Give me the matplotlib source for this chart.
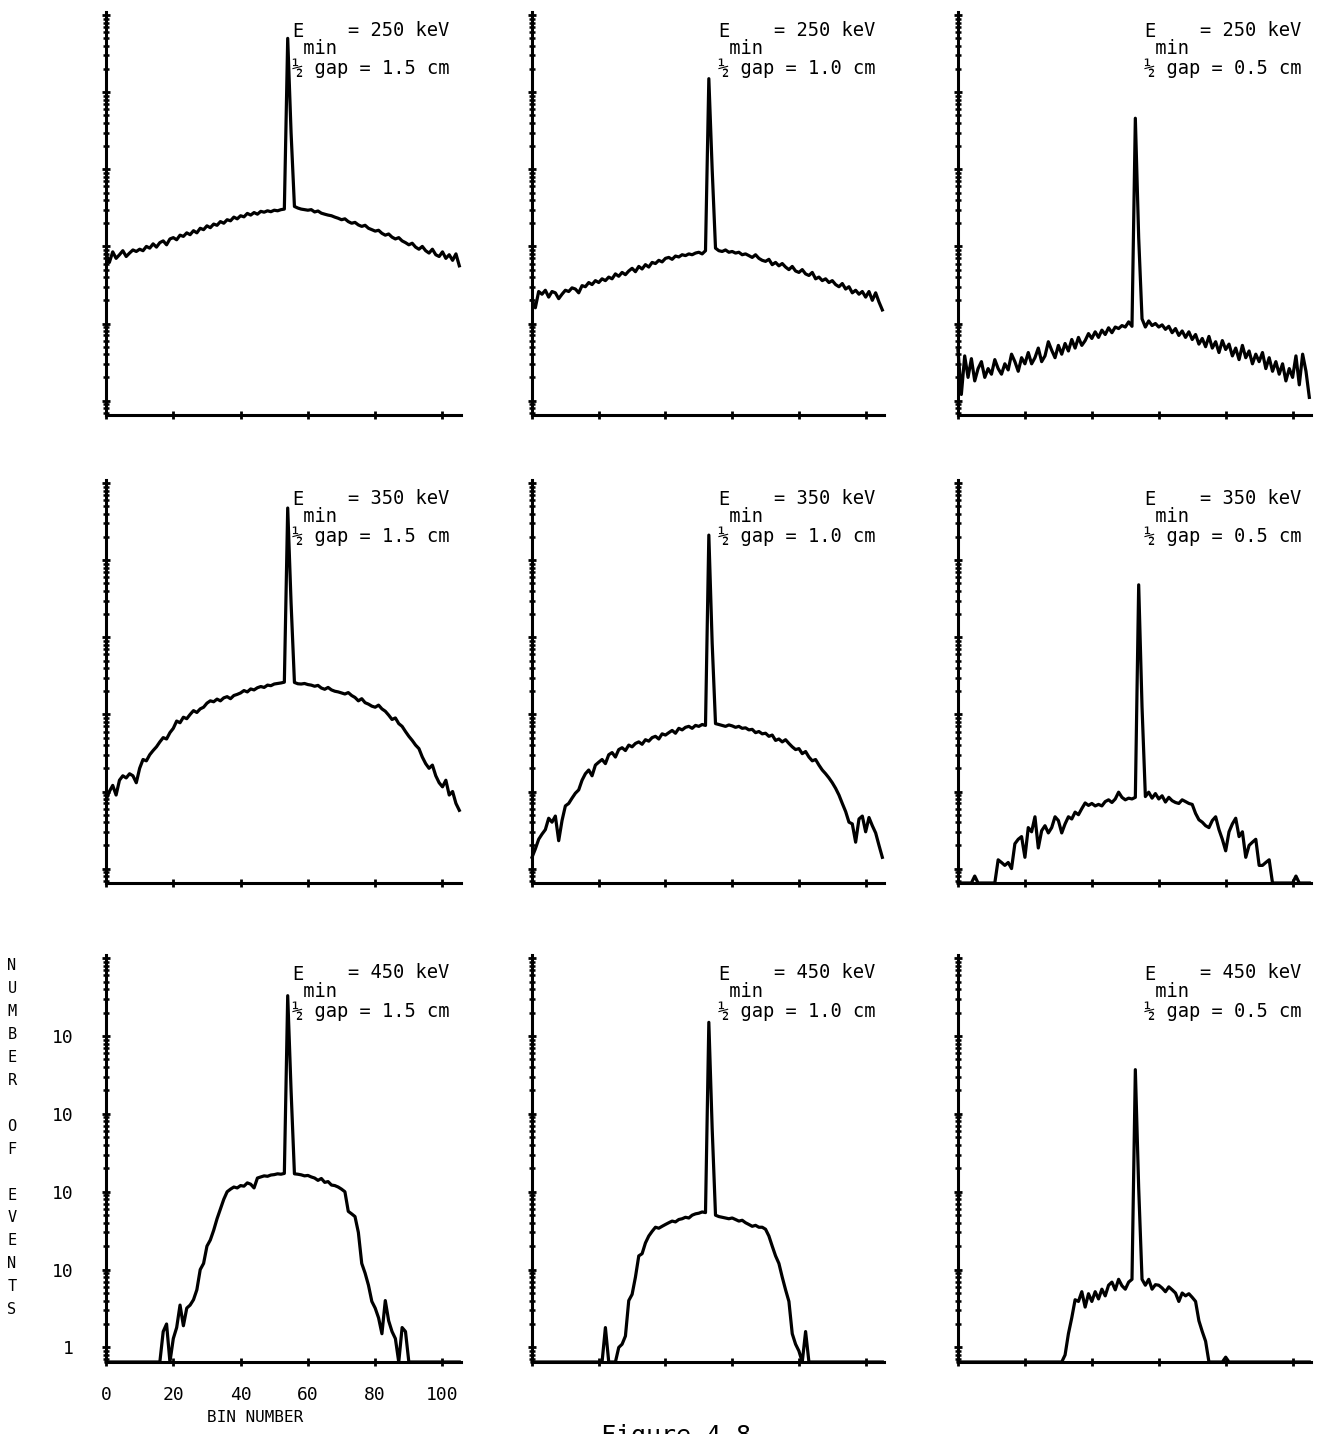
import numpy as np
import matplotlib
matplotlib.use("Agg")
import matplotlib.pyplot as plt
from matplotlib.ticker import FixedLocator, LogLocator, NullFormatter, FixedFormatter

# ---------------- data (counts per bin, bins 0..105) ----------------
bins = list(range(106))

e_min_kev = ["250", "350", "450"]          # rows
half_gap_cm = ["1.5", "1.0", "0.5"]         # columns

x_tick_values = [0, 20, 40, 60, 80, 100]
x_tick_labels = ["0", "20", "40", "60", "80", "100"]
y_tick_values = [1, 10, 100, 1000, 10000, 100000]
y_tick_labels = ["1", "10", "10", "10", "10", ""]

counts_250_15 = [80, 62, 85, 70, 78, 88, 74, 82, 90, 86,
                 92, 88, 100, 95, 108, 98, 112, 118, 105, 125,
                 130, 122, 140, 135, 150, 142, 160, 150, 172, 165,
                 185, 175, 195, 188, 210, 200, 222, 215, 240, 228,
                 250, 242, 268, 255, 275, 262, 285, 278, 290, 282,
                 295, 290, 300, 305, 50000, 3000, 330, 315, 305, 300,
                 295, 300, 280, 288, 270, 262, 255, 250, 240, 232,
                 222, 228, 210, 200, 205, 190, 182, 188, 172, 165,
                 158, 162, 148, 140, 145, 132, 125, 130, 118, 112,
                 105, 110, 98, 92, 100, 88, 82, 92, 78, 74,
                 85, 70, 78, 66, 80, 56]

counts_250_10 = [20, 16, 26, 24, 27, 22, 26, 25, 21, 24,
                 27, 26, 29, 28, 25, 31, 30, 34, 32, 36,
                 34, 38, 36, 40, 38, 44, 41, 46, 43, 48,
                 52, 47, 55, 51, 58, 54, 62, 60, 66, 63,
                 70, 72, 68, 75, 73, 78, 76, 80, 78, 82,
                 84, 80, 88, 15000, 1000, 95, 88, 86, 90, 84,
                 86, 82, 84, 78, 80, 76, 72, 78, 70, 66,
                 64, 68, 58, 62, 56, 60, 54, 50, 55, 48,
                 46, 50, 44, 42, 46, 38, 40, 36, 38, 34,
                 36, 32, 30, 33, 28, 30, 25, 27, 24, 26,
                 22, 26, 20, 25, 19, 15]

counts_250_05 = [4.5, 1.2, 3.8, 2.0, 3.5, 1.8, 2.6, 3.2, 2.0, 2.6,
                 2.2, 3.4, 2.6, 2.2, 3.0, 2.5, 4.0, 3.2, 2.4, 3.6,
                 3.0, 4.2, 3.0, 3.6, 4.8, 3.2, 3.8, 5.8, 4.5, 3.6,
                 5.2, 4.0, 5.5, 4.4, 6.2, 4.8, 6.6, 5.2, 6.0, 7.4,
                 6.4, 7.8, 6.6, 8.2, 7.2, 8.8, 7.6, 9.0, 8.6, 9.4,
                 9.0, 10.5, 9.2, 4600, 130, 11.5, 9.0, 10.8, 9.4, 10.0,
                 9.0, 9.6, 8.4, 9.2, 7.6, 8.6, 7.0, 8.0, 6.6, 7.8,
                 6.2, 7.2, 5.4, 6.4, 5.0, 6.8, 4.8, 5.8, 4.2, 6.0,
                 4.6, 5.4, 3.8, 4.8, 3.4, 5.2, 3.6, 4.4, 3.0, 4.0,
                 3.2, 4.2, 2.6, 3.6, 2.4, 3.2, 2.2, 3.0, 1.8, 2.6,
                 2.0, 3.8, 1.6, 4.0, 2.4, 1.1]

counts_350_15 = [7.8, 10, 12, 9, 14, 16, 15, 17, 16, 13,
                 20, 26, 25, 30, 34, 38, 44, 50, 48, 58,
                 66, 82, 78, 92, 88, 100, 112, 106, 118, 124,
                 140, 150, 146, 158, 150, 164, 170, 160, 176, 182,
                 190, 204, 196, 214, 208, 222, 230, 224, 240, 236,
                 248, 252, 256, 262, 47600, 2800, 260, 250, 248, 252,
                 244, 240, 232, 238, 220, 212, 224, 208, 200, 196,
                 190, 184, 192, 176, 166, 150, 160, 142, 136, 128,
                 124, 132, 118, 110, 98, 86, 90, 76, 70, 60,
                 52, 46, 40, 36, 28, 23, 20, 22, 16, 13,
                 11.5, 14, 9, 10, 7, 5.7]

counts_350_10 = [1.4, 1.8, 2.4, 2.8, 3.2, 4.5, 4.0, 4.8, 2.3, 4.2,
                 6.5, 7.0, 8.2, 9.5, 10.5, 14, 17, 19, 16, 22,
                 24, 26, 23, 30, 32, 28, 35, 37, 34, 40,
                 38, 42, 44, 41, 47, 45, 50, 52, 48, 56,
                 54, 58, 62, 57, 66, 63, 68, 70, 66, 72,
                 70, 74, 72, 21200, 840, 76, 74, 72, 70, 73,
                 71, 68, 70, 66, 67, 63, 64, 58, 60, 56,
                 57, 52, 54, 46, 48, 44, 47, 42, 38, 35,
                 36, 31, 33, 28, 25, 26, 22, 19, 17, 15,
                 13, 11, 9, 7, 5.5, 4.0, 3.8, 2.2, 4.4, 4.8,
                 3.0, 4.6, 3.6, 2.9, 2.0, 1.4]

counts_350_05 = [0, 0, 0, 0, 0, 0.8, 0, 0, 0, 0,
                 0, 0, 1.3, 1.2, 1.1, 1.2, 1.0, 2.1, 2.4, 2.6,
                 1.4, 3.4, 3.0, 4.7, 1.85, 3.1, 3.6, 2.9, 3.4, 4.7,
                 4.2, 2.9, 3.8, 4.7, 4.4, 5.4, 5.0, 6.0, 7.1, 6.6,
                 7.0, 6.5, 6.8, 6.5, 7.4, 7.8, 7.2, 8.0, 9.8, 8.4,
                 7.8, 8.2, 8.0, 8.4, 4800, 125, 8.6, 9.8, 8.2, 9.4,
                 8.0, 8.8, 7.3, 8.4, 7.6, 7.2, 7.0, 7.8, 7.4, 7.0,
                 6.8, 5.2, 4.3, 4.0, 3.6, 3.4, 4.2, 4.7, 3.2, 2.4,
                 1.7, 3.0, 3.8, 4.5, 2.6, 3.0, 1.4, 2.0, 2.2, 2.4,
                 1.1, 1.1, 1.2, 1.3, 0, 0, 0, 0, 0, 0,
                 0, 0.8, 0, 0, 0, 0]

counts_450_15 = [0, 0, 0, 0, 0, 0, 0, 0, 0, 0,
                 0, 0, 0, 0, 0, 0, 0, 1.6, 2.0, 0,
                 1.3, 1.8, 3.5, 1.9, 3.2, 3.5, 4.1, 5.5, 10, 12,
                 20, 24, 32, 45, 60, 80, 100, 108, 115, 112,
                 120, 118, 130, 125, 112, 150, 155, 160, 158, 164,
                 166, 170, 168, 172, 33000, 2000, 170, 168, 165, 160,
                 162, 155, 150, 140, 148, 132, 135, 122, 120, 115,
                 108, 100, 56, 52, 48, 30, 12, 9, 6.3, 3.9,
                 3.2, 2.4, 1.5, 4.0, 2.2, 1.6, 1.3, 0, 1.8, 1.6,
                 0, 0, 0, 0, 0, 0, 0, 0, 0, 0,
                 0, 0, 0, 0, 0, 0]

counts_450_10 = [0, 0, 0, 0, 0, 0, 0, 0, 0, 0,
                 0, 0, 0, 0, 0, 0, 0, 0, 0, 0,
                 0, 0, 1.8, 0, 0, 0, 1.0, 1.1, 1.4, 4.0,
                 4.8, 8, 15, 16, 22, 27, 31, 35, 34, 36,
                 38, 40, 42, 41, 44, 45, 47, 46, 50, 52,
                 53, 55, 54, 15000, 650, 50, 48, 47, 46, 45,
                 46, 44, 42, 43, 40, 38, 36, 37, 35, 35,
                 33, 27, 20, 15, 12, 8, 5.5, 3.9, 1.5, 1.1,
                 0.9, 0, 1.6, 0, 0, 0, 0, 0, 0, 0,
                 0, 0, 0, 0, 0, 0, 0, 0, 0, 0,
                 0, 0, 0, 0, 0, 0]

counts_450_05 = [0, 0, 0, 0, 0, 0, 0, 0, 0, 0,
                 0, 0, 0, 0, 0, 0, 0, 0, 0, 0,
                 0, 0, 0, 0, 0, 0, 0, 0, 0, 0,
                 0, 0, 0.8, 1.5, 2.4, 4.1, 3.9, 5.2, 3.3, 4.9,
                 3.9, 5.2, 4.2, 5.6, 4.6, 6.3, 6.9, 5.5, 7.5, 6.2,
                 5.6, 6.9, 7.5, 3700, 112, 7.5, 6.3, 7.5, 5.6, 6.4,
                 6.3, 5.8, 5.2, 6.0, 5.5, 5.0, 3.9, 5.0, 4.6, 4.9,
                 4.4, 3.9, 2.2, 1.6, 1.2, 0, 0, 0, 0, 0,
                 0.75, 0, 0, 0, 0, 0, 0, 0, 0, 0,
                 0, 0, 0, 0, 0, 0, 0, 0, 0, 0,
                 0, 0, 0, 0, 0, 0]

series = [[counts_250_15, counts_250_10, counts_250_05],
          [counts_350_15, counts_350_10, counts_350_05],
          [counts_450_15, counts_450_10, counts_450_05]]

# ---------------- layout / style ----------------
W, H = 1325, 1434
YMIN, YMAX = 0.65, 1.1e5
XMAX = 105.5
MONO = ['DejaVu Sans Mono']
FS = 13.5
CHAR = 0.602 * FS * 100 / 72   # monospace advance in pixels

col_px = [(106, 461), (532, 884), (958, 1311)]
row_px = [(12, 415), (480, 883), (955, 1362)]

fig = plt.figure(figsize=(W / 100, H / 100), dpi=100)
fig.patch.set_facecolor('white')


def fx(px):
    return px / W


def fy(py):
    return 1 - py / H


for r in range(3):
    for c in range(3):
        x0, x1 = col_px[c]
        y0, y1 = row_px[r]
        ax = fig.add_axes([fx(x0), fy(y1), (x1 - x0) / W, (y1 - y0) / H])
        ax.set_facecolor('none')
        vals = np.array(series[r][c], dtype=float)
        ax.plot(bins, np.where(vals > 0, vals, YMIN), color='black', lw=2.3,
                clip_on=False, zorder=3)
        ax.set_yscale('log')
        ax.set_ylim(YMIN, YMAX)
        ax.set_xlim(0, XMAX)
        for s in ('top', 'right'):
            ax.spines[s].set_visible(False)
        for s in ('left', 'bottom'):
            ax.spines[s].set_linewidth(2.2)
        ax.yaxis.set_major_locator(FixedLocator(y_tick_values))
        ax.yaxis.set_minor_locator(LogLocator(base=10, subs=np.arange(2, 10), numticks=30))
        ax.yaxis.set_minor_formatter(NullFormatter())
        ax.xaxis.set_major_locator(FixedLocator(x_tick_values))
        ax.tick_params(which='both', direction='inout', length=6, width=2.0, color='black')
        ax.tick_params(axis='y', which='minor', length=5, width=1.8)
        if r == 2 and c == 0:
            ax.yaxis.set_major_formatter(FixedFormatter(y_tick_labels))
            ax.xaxis.set_major_formatter(FixedFormatter(x_tick_labels))
            ax.tick_params(axis='y', which='major', pad=20, labelsize=13)
            ax.tick_params(axis='x', which='major', pad=14, labelsize=13)
            for lab in ax.get_xticklabels() + ax.get_yticklabels():
                lab.set_fontfamily(MONO)
        else:
            ax.yaxis.set_major_formatter(NullFormatter())
            ax.xaxis.set_major_formatter(NullFormatter())

        # annotation: "E" with "min" set half a line lower, then the values
        tx = x0 + 186
        fig.text(fx(tx), fy(y0 + 10), "E\n min", fontsize=FS, family=MONO,
                 ha='left', va='top', linespacing=0.88)
        fig.text(fx(tx + 5 * CHAR), fy(y0 + 18), "= %s keV" % e_min_kev[r],
                 fontsize=FS, family=MONO, ha='left', va='center')
        fig.text(fx(tx), fy(y0 + 56), "\u00bd gap = %s cm" % half_gap_cm[c],
                 fontsize=FS, family=MONO, ha='left', va='center')

# axis titles for the bottom-left panel
fig.text(fx(255), fy(1418), "BIN NUMBER", fontsize=11.5, family=MONO,
         ha='center', va='center')
ylabel = "NUMBER OF EVENTS"
for i, ch in enumerate(ylabel):
    if ch != " ":
        fig.text(fx(12), fy(966 + i * 22.9), ch, fontsize=11, family=MONO,
                 ha='center', va='center')

# caption (cut off at the bottom edge, as in the scan)
fig.text(fx(676), fy(1424), "Figure 4.8", fontsize=18, family=MONO,
         ha='center', va='top')

fig.savefig("out.png", dpi=100, facecolor='white')
